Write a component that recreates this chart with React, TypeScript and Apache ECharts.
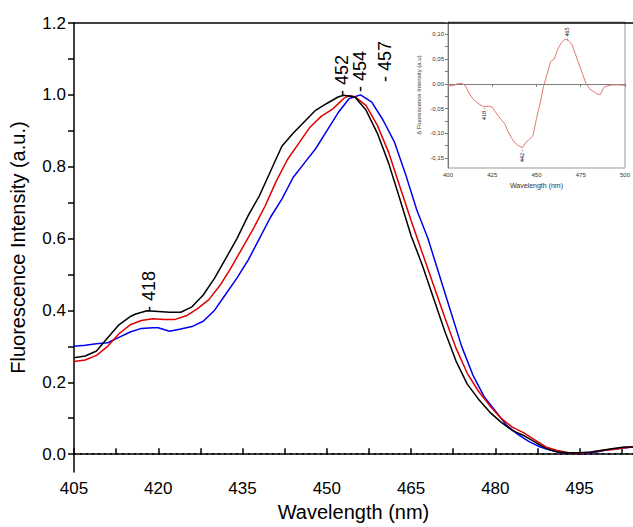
import React, { useEffect, useRef } from 'react';
import * as echarts from 'echarts';

const blackX = [405, 407, 409, 411, 413, 415, 416, 418, 420, 422, 424, 426, 428, 430, 432, 434, 436, 438, 440, 442, 444, 446, 448, 450, 452, 453, 455, 457, 459, 461, 463, 465, 467, 469, 471, 473, 475, 477, 479, 481, 483, 485, 487, 489, 491, 493, 495, 497, 499, 501, 503, 504.5];
const blackY = [0.268, 0.273, 0.287, 0.324, 0.36, 0.383, 0.39, 0.399, 0.397, 0.395, 0.395, 0.41, 0.443, 0.489, 0.544, 0.6, 0.664, 0.719, 0.788, 0.857, 0.893, 0.925, 0.957, 0.976, 0.994, 0.999, 0.994, 0.957, 0.893, 0.81, 0.71, 0.608, 0.526, 0.434, 0.342, 0.259, 0.195, 0.153, 0.117, 0.089, 0.066, 0.052, 0.034, 0.016, 0.006, 0.004, 0.004, 0.006, 0.011, 0.016, 0.02, 0.02];
const redX = [405, 407, 409, 411, 413, 415, 417, 419, 421, 423, 425, 427, 429, 431, 433, 435, 437, 439, 441, 443, 445, 447, 449, 451, 452, 453, 454, 455, 457, 459, 461, 463, 465, 467, 469, 471, 473, 475, 477, 479, 481, 483, 485, 487, 489, 491, 493, 495, 497, 499, 501, 503, 504.5];
const redY = [0.258, 0.262, 0.275, 0.3, 0.335, 0.36, 0.372, 0.377, 0.375, 0.375, 0.385, 0.405, 0.43, 0.47, 0.52, 0.575, 0.63, 0.69, 0.76, 0.82, 0.865, 0.91, 0.94, 0.96, 0.975, 0.99, 0.998, 0.995, 0.97, 0.915, 0.84, 0.745, 0.65, 0.56, 0.47, 0.38, 0.295, 0.225, 0.175, 0.135, 0.1, 0.075, 0.06, 0.04, 0.02, 0.01, 0.004, 0.002, 0.005, 0.01, 0.013, 0.018, 0.02];
const blueX = [405, 407, 409, 411, 413, 415, 417, 419, 420, 422, 424, 426, 428, 430, 432, 434, 436, 438, 440, 442, 444, 446, 448, 450, 452, 454, 456, 458, 460, 462, 464, 466, 468, 470, 472, 474, 476, 478, 480, 482, 484, 486, 488, 490, 492, 494, 496, 498, 500, 502, 504.5];
const blueY = [0.3, 0.303, 0.307, 0.31, 0.325, 0.34, 0.35, 0.352, 0.352, 0.342, 0.348, 0.355, 0.37, 0.4, 0.445, 0.49, 0.54, 0.6, 0.66, 0.71, 0.77, 0.81, 0.85, 0.9, 0.95, 0.99, 1.0, 0.98, 0.93, 0.87, 0.78, 0.68, 0.6, 0.5, 0.4, 0.3, 0.22, 0.16, 0.12, 0.08, 0.055, 0.035, 0.02, 0.01, 0.004, 0.002, 0.001, 0.006, 0.012, 0.016, 0.02];

const insetX = [400, 403, 405, 408, 410, 412, 414, 416, 418, 420, 423, 425, 427, 430, 432, 434, 436, 438, 440, 442, 444, 446, 448, 450, 452, 454, 456, 458, 460, 462, 464, 466, 468, 470, 472, 474, 476, 478, 480, 482, 484, 486, 488, 490, 493, 496, 500];
const insetY = [-0.003, -0.004, 0, 0.001, -0.005, -0.02, -0.03, -0.037, -0.042, -0.046, -0.045, -0.047, -0.058, -0.072, -0.08, -0.097, -0.11, -0.12, -0.125, -0.129, -0.118, -0.112, -0.105, -0.07, -0.04, -0.005, 0.02, 0.045, 0.05, 0.07, 0.083, 0.09, 0.088, 0.08, 0.06, 0.04, 0.02, 0, -0.01, -0.015, -0.02, -0.022, -0.007, -0.004, -0.002, -0.002, -0.003];

const mainXLabels = [405, 420, 435, 450, 465, 480, 495];
const mainXTicks = [405, 412.5, 420, 427.5, 435, 442.5, 450, 457.5, 465, 472.5, 480, 487.5, 495, 502.5];
const mainYLabels = [0, 0.2, 0.4, 0.6, 0.8, 1.0, 1.2];
const mainYTicks = [0, 0.1, 0.2, 0.3, 0.4, 0.5, 0.6, 0.7, 0.8, 0.9, 1.0, 1.1, 1.2];
const insetYLabels = [-0.15, -0.1, -0.05, 0, 0.05, 0.1];
const insetYTicks = [-0.15, -0.125, -0.1, -0.075, -0.05, -0.025, 0, 0.025, 0.05, 0.075, 0.1, 0.125];

const zip = (xs: number[], ys: number[]) => xs.map((x, i) => [x, ys[i]]);

const App: React.FC = () => {
  const ref = useRef<HTMLDivElement>(null);

  useEffect(() => {
    if (!ref.current) return;
    const chart = echarts.init(ref.current, null, { renderer: 'svg' });
    const font = 'Liberation Sans, Arial, sans-serif';
    const serif = 'Liberation Serif, Times New Roman, serif';
    // vertical label reading bottom to top, starting at (x, y)
    const rotLabel = (text: string, x: number, y: number, size: number, family = serif) => ({
      type: 'text', x, y, rotation: Math.PI / 2,
      style: { text, fontSize: size, fontFamily: family, fill: '#000', align: 'left', verticalAlign: 'middle' }
    });

    chart.setOption({
      animation: false,
      grid: [
        { left: 72, top: 23, right: 0, bottom: 51 },
        { left: 448, top: 22, width: 180, height: 146, show: true, borderColor: '#999', borderWidth: 1, backgroundColor: '#fff' }
      ],
      xAxis: [
        {
          type: 'value', gridIndex: 0, min: 405, max: 504.5,
          axisLine: { lineStyle: { color: '#000', width: 1.5 } },
          axisTick: { inside: true, length: 6, customValues: mainXTicks, lineStyle: { color: '#000', width: 1.5 } },
          axisLabel: { customValues: mainXLabels, fontSize: 17, color: '#000', fontFamily: font, margin: 8 },
          splitLine: { show: false },
          name: 'Wavelength (nm)', nameLocation: 'middle', nameGap: 26,
          nameTextStyle: { fontSize: 20, color: '#000', fontFamily: font }
        },
        {
          type: 'value', gridIndex: 0, position: 'top', min: 405, max: 504.5,
          axisLine: { lineStyle: { color: '#000', width: 1.5 } },
          axisTick: { show: false }, axisLabel: { show: false }, splitLine: { show: false }
        },
        {
          type: 'value', gridIndex: 1, min: 400, max: 500, interval: 25,
          axisLine: { lineStyle: { color: '#777' } },
          axisTick: { length: 3, lineStyle: { color: '#777' } },
          axisLabel: { fontSize: 6, color: '#333', margin: 4, fontFamily: font },
          splitLine: { show: false },
          name: 'Wavelength (nm)', nameLocation: 'middle', nameGap: 14,
          nameTextStyle: { fontSize: 7, color: '#333', fontFamily: font }
        }
      ],
      yAxis: [
        {
          type: 'value', gridIndex: 0, min: -0.05, max: 1.2,
          axisLine: { lineStyle: { color: '#000', width: 1.5 } },
          axisTick: { customValues: mainYTicks, length: 6, lineStyle: { color: '#000', width: 1.5 } },
          axisLabel: { customValues: mainYLabels, formatter: (v: number) => v.toFixed(1), fontSize: 17, color: '#000', fontFamily: font },
          splitLine: { show: false },
          name: 'Fluorescence Intensity (a.u.)', nameLocation: 'middle', nameGap: 46,
          nameTextStyle: { fontSize: 20, color: '#000', fontFamily: font }
        },
        {
          type: 'value', gridIndex: 1, min: -0.17, max: 0.125,
          axisLine: { lineStyle: { color: '#777' } },
          axisTick: { customValues: insetYTicks, length: 3, lineStyle: { color: '#777' } },
          axisLabel: { customValues: insetYLabels, formatter: (v: number) => v.toFixed(2).replace('.', ','), fontSize: 6, color: '#333', margin: 4, fontFamily: font },
          splitLine: { show: false },
          name: 'Δ Fluorescence Intensity (a.u)', nameLocation: 'middle', nameGap: 26,
          nameTextStyle: { fontSize: 6, color: '#333', fontFamily: font }
        }
      ],
      series: [
        {
          type: 'line', xAxisIndex: 0, yAxisIndex: 0, data: zip(blueX, blueY), showSymbol: false,
          lineStyle: { color: '#0000ee', width: 1.5 }
        },
        {
          type: 'line', xAxisIndex: 0, yAxisIndex: 0, data: zip(redX, redY), showSymbol: false,
          lineStyle: { color: '#e00000', width: 1.5 }
        },
        {
          type: 'line', xAxisIndex: 0, yAxisIndex: 0, data: zip(blackX, blackY), showSymbol: false,
          lineStyle: { color: '#000', width: 1.5 },
          markLine: {
            symbol: 'none', silent: true, label: { show: false },
            lineStyle: { color: '#000', type: [2, 4], width: 1.5 },
            data: [{ yAxis: 0 }]
          }
        },
        {
          type: 'line', xAxisIndex: 2, yAxisIndex: 1, data: zip(insetX, insetY), showSymbol: false,
          lineStyle: { color: '#e07a70', width: 1 },
          markLine: {
            symbol: 'none', silent: true, label: { show: false },
            lineStyle: { color: '#888', type: 'dotted', width: 0.8 },
            data: [{ yAxis: 0 }]
          }
        }
      ],
      graphic: [
        rotLabel('- 418', 149, 312, 18, font),
        rotLabel('- 452', 342, 96, 18, font),
        rotLabel('- 454', 360, 92, 18, font),
        rotLabel('- 457', 385, 82, 18, font),
        rotLabel('418 -', 484, 120, 6),
        rotLabel('442 -', 522, 162, 6),
        rotLabel('- 465', 567, 40, 6)
      ]
    });
    return () => chart.dispose();
  }, []);

  return <div ref={ref} style={{ position: 'absolute', left: 0, top: 0, width: 633, height: 527 }} />;
};

export default App;
